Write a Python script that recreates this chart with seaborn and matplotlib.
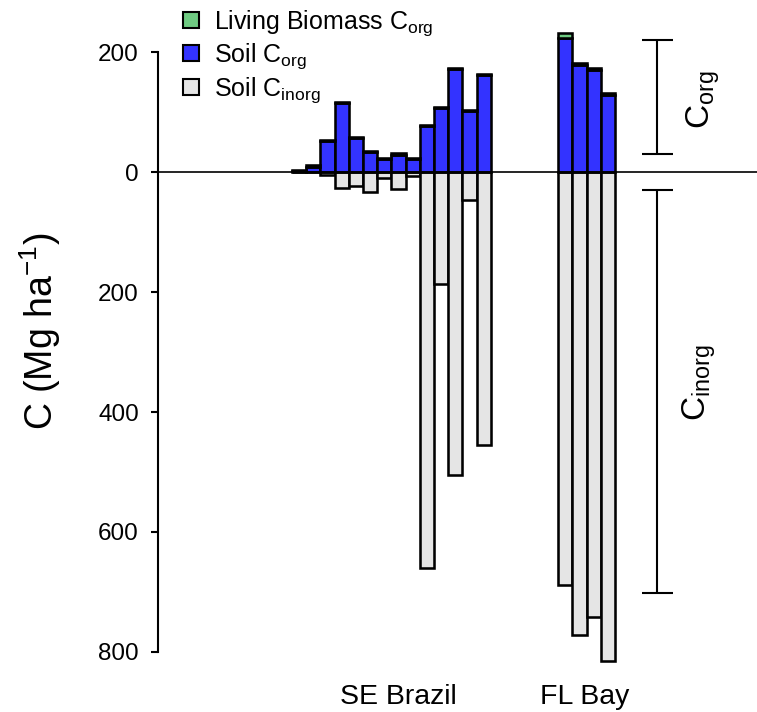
import numpy as np
import pandas as pd
import matplotlib
matplotlib.use("Agg")
import matplotlib.pyplot as plt
import seaborn as sns
from matplotlib.patches import Patch

# ---------------- data ----------------
groups = ["SE Brazil"] * 14 + ["FL Bay"] * 4
soil_corg = [1, 9, 52, 115, 56, 33, 22, 29, 21, 76, 106, 171, 102, 161,
             223, 179, 170, 129]
living_corg = [2, 2, 2, 2, 2, 2, 2, 2, 2, 2, 2, 2, 2, 2,
               9, 3, 3, 3]
soil_cinorg = [0, 0, 5, 27, 24, 34, 10, 28, 6, 660, 186, 505, 47, 455,
               688, 772, 742, 815]
group_names = ["SE Brazil", "FL Bay"]
ytick_vals = [200, 0, -200, -400, -600, -800]
ytick_labels = ["200", "0", "200", "400", "600", "800"]

# ---------------- style ----------------
sns.set_style("white")
plt.rcParams["font.family"] = ["Liberation Sans", "DejaVu Sans"]
plt.rcParams["mathtext.fontset"] = "custom"
plt.rcParams["mathtext.rm"] = "Liberation Sans"
plt.rcParams["mathtext.it"] = "Liberation Sans"
plt.rcParams["mathtext.default"] = "rm"
for key in ["text.color", "axes.labelcolor", "xtick.color", "ytick.color"]:
    plt.rcParams[key] = "black"

GREEN = "#6FCB82"
BLUE = "#3333FF"
GREY = "#E5E5E5"
EDGE_LW = 1.85

# layout: bars within a group are adjacent, groups separated by a gap
group_offset = {"SE Brazil": 0.0, "FL Bay": 18.75}
pos = []
counter = {}
for g in groups:
    k = counter.get(g, 0)
    pos.append(group_offset[g] + k)
    counter[g] = k + 1

df = pd.DataFrame({
    "pos": pos,
    "group": groups,
    "soil_corg": soil_corg,
    "living": living_corg,
    "neg_cinorg": -np.array(soil_cinorg, dtype=float),
})

W, H = 757, 712
fig = plt.figure(figsize=(W / 100, H / 100), dpi=100)
ax = fig.add_axes([158 / W, (H - 665) / H, (W - 158) / W, 650 / H])

common = dict(x="pos", native_scale=True, width=1.0, orient="x",
              errorbar=None, saturation=1, edgecolor="black",
              linewidth=EDGE_LW, ax=ax)
sns.barplot(data=df, y="neg_cinorg", color=GREY, **common)
sns.barplot(data=df, y="soil_corg", color=BLUE, **common)
sns.barplot(data=df, y="living", color=GREEN,
            bottom=df["soil_corg"].to_numpy(), **common)

ax.axhline(0, color="black", lw=1.2, zorder=5)

# axis cosmetics
x0 = 299.1
unit = 14.2
ax.set_xlim((158 - x0) / unit, (W - x0) / unit)
ax.set_ylim((172 - 665) / 0.6, (172 - 15) / 0.6)
ax.set_xticks([])
ax.set_xlabel("")
ax.set_ylabel("")
ax.set_yticks(ytick_vals)
ax.set_yticklabels(ytick_labels)
for s in ["top", "right", "bottom"]:
    ax.spines[s].set_visible(False)
ax.spines["left"].set_bounds(-800, 200)
ax.spines["left"].set_linewidth(1.5)
ax.spines["left"].set_color("black")
ax.tick_params(axis="y", direction="out", length=5.3, width=1.5,
               labelsize=17.5, pad=8.5, colors="black", left=True)

# group labels below
grp_centers = {"SE Brazil": 7.0, "FL Bay": 20.1}
for g in group_names:
    ax.text(grp_centers[g], (172 - 697) / 0.6, g, ha="center", va="center",
            fontsize=20.5, clip_on=False)

# brackets on the right
bx = (657 - x0) / unit
cap = (673 - 642) / unit / 2
for (ytop, ybot) in [(220, 30), (-30, -702)]:
    ax.plot([bx, bx], [ybot, ytop], color="black", lw=1.5, clip_on=False,
            solid_capstyle="butt")
    for yy in (ytop, ybot):
        ax.plot([bx - cap, bx + cap], [yy, yy], color="black", lw=1.5,
                clip_on=False, solid_capstyle="butt")
ax.text((703 - x0) / unit, 120, r"C$_{org}$", rotation=90, ha="center",
        va="center", fontsize=24, clip_on=False)
ax.text((699 - x0) / unit, -351, r"C$_{inorg}$", rotation=90, ha="center",
        va="center", fontsize=24, clip_on=False)

# y label
fig.text(40 / W, 1 - 331 / H, r"C (Mg ha$^{-1}$)", rotation=90,
         ha="center", va="center", fontsize=27)

# legend
handles = [
    Patch(facecolor=GREEN, edgecolor="black", linewidth=1.5,
          label=r"Living Biomass C$_{org}$"),
    Patch(facecolor=BLUE, edgecolor="black", linewidth=1.5,
          label=r"Soil C$_{org}$"),
    Patch(facecolor=GREY, edgecolor="black", linewidth=1.5,
          label=r"Soil C$_{inorg}$"),
]
fig.legend(handles=handles, loc="upper left",
           bbox_to_anchor=(183 / W, 1 - 8 / H), frameon=False,
           fontsize=18, handlelength=0.65, handleheight=0.6,
           handletextpad=0.6, labelspacing=0.15, borderpad=0,
           borderaxespad=0)

fig.savefig("out.png", dpi=100)
